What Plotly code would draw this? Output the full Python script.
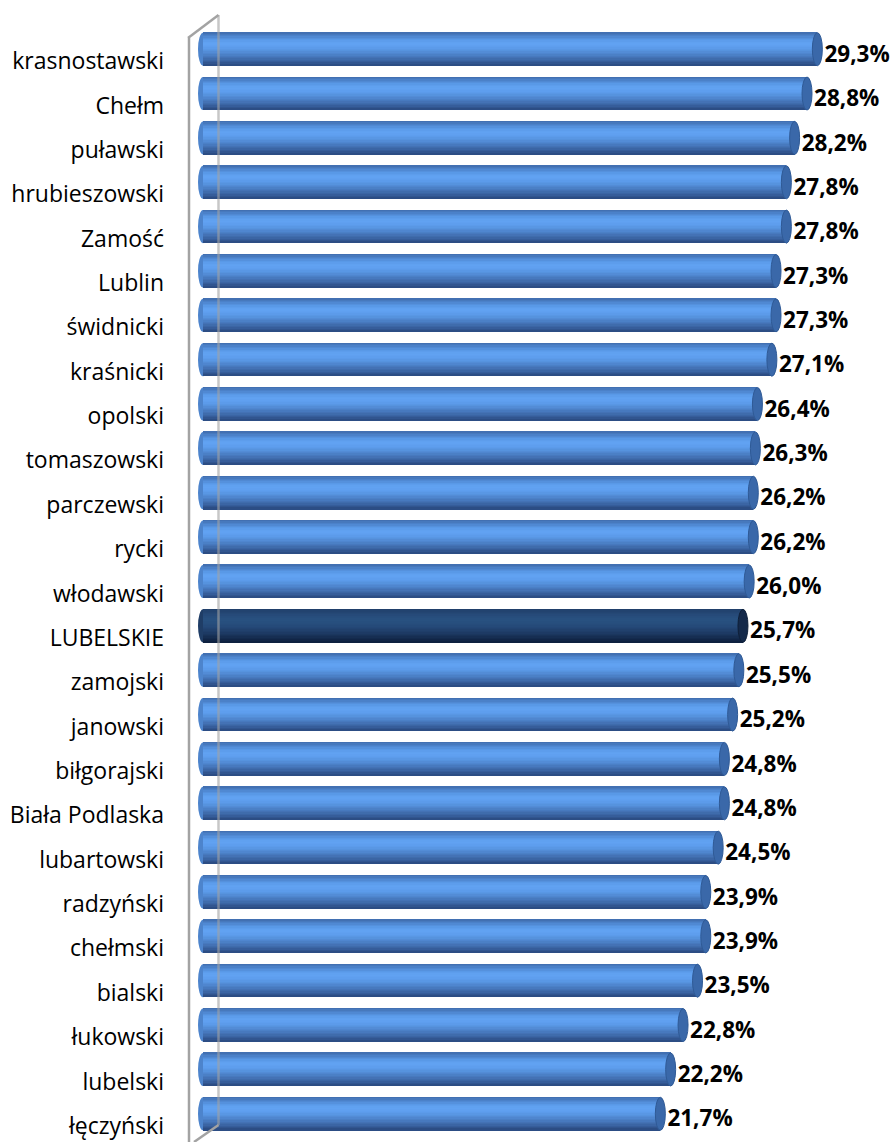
import numpy as np
import plotly.graph_objects as go

# ---- data ----
categories = ["krasnostawski", "Chełm", "puławski", "hrubieszowski", "Zamość", "Lublin",
              "świdnicki", "kraśnicki", "opolski", "tomaszowski", "parczewski", "rycki",
              "włodawski", "LUBELSKIE", "zamojski", "janowski", "biłgorajski",
              "Biała Podlaska", "lubartowski", "radzyński", "chełmski", "bialski",
              "łukowski", "lubelski", "łęczyński"]
values = [29.3, 28.8, 28.2, 27.8, 27.8, 27.3, 27.3, 27.1, 26.4, 26.3, 26.2, 26.2,
          26.0, 25.7, 25.5, 25.2, 24.8, 24.8, 24.5, 23.9, 23.9, 23.5, 22.8, 22.2, 21.7]
highlight = "LUBELSKIE"

# ---- layout geometry ----
W, H = 895, 1142
ML, MR, MT, MB = 198, 0, 27, 6
PX_PER_UNIT = 20.66
XMIN = -0.92
XMAX = XMIN + (W - ML - MR) / PX_PER_UNIT
n = len(categories)
YR = [n - 0.5, -0.5]
slot_px = (H - MT - MB) / n
BAR_H = 0.745            # bar thickness in category units
R = 5.0 / PX_PER_UNIT    # half width of end-cap ellipse

def px_x(px):
    return (px - ML) / (W - ML - MR)

def px_y(py):
    return (H - MB - py) / (H - MT - MB)

def interp(keys, m):
    keys = np.array([[int(c[i:i + 2], 16) for i in (1, 3, 5)] for c in keys], float)
    t = np.linspace(0, 1, m)
    kt = np.linspace(0, 1, len(keys))
    out = []
    for tt in t:
        rgb = [np.interp(tt, kt, keys[:, j]) for j in range(3)]
        out.append("rgb(%d,%d,%d)" % tuple(int(round(v)) for v in rgb))
    return out

blue_keys = ["#4270B2", "#4E86CF", "#5A9AE8", "#62A3F3", "#5E9EEE", "#5794E0",
             "#4E84CC", "#4473B6", "#3962A0", "#2C4D84"]
navy_keys = ["#21406B", "#244774", "#274D7C", "#285180", "#274E7D", "#244877",
             "#20406C", "#1B375F", "#152C4F", "#0E2140"]
NS = 24
blue = interp(blue_keys, NS)
navy = interp(navy_keys, NS)

ypos = list(range(n))
fig = go.Figure()

strip = BAR_H / NS
for k in range(NS):
    cols = [navy[k] if c == highlight else blue[k] for c in categories]
    fig.add_trace(go.Bar(
        orientation="h", y=ypos,
        x=[v - R - (XMIN + R) for v in values],
        base=XMIN + R,
        offset=-BAR_H / 2 + k * strip, width=strip * 1.15,
        marker=dict(color=cols, line=dict(width=0)),
        hoverinfo="skip", showlegend=False))

shapes = []
for i, (c, v) in enumerate(zip(categories, values)):
    hl = c == highlight
    # left rounded end
    shapes.append(dict(type="circle", xref="x", yref="y", layer="below",
                       x0=XMIN, x1=XMIN + 2 * R, y0=i - BAR_H / 2, y1=i + BAR_H / 2,
                       fillcolor="#1F3D66" if hl else "#4D84CC", line=dict(width=0)))
    # right end cap
    shapes.append(dict(type="circle", xref="x", yref="y", layer="above",
                       x0=v - 2 * R, x1=v, y0=i - BAR_H / 2, y1=i + BAR_H / 2,
                       fillcolor="#14294A" if hl else "#3A68A9",
                       line=dict(width=1, color="#0E1F38" if hl else "#2F5A96")))

# 3D wall outline
wall = "#A3A3A3"
for (x0, y0, x1, y1, op) in [(189, 38, 189, 1142, 1.0), (188, 38, 218.5, 15, 1.0),
                             (218.5, 15, 218.5, 1125, 0.6), (218.5, 1125, 194, 1142, 1.0)]:
    shapes.append(dict(type="line", xref="paper", yref="paper", layer="above",
                       x0=px_x(x0), y0=px_y(y0), x1=px_x(x1), y1=px_y(y1),
                       opacity=op, line=dict(color=wall, width=2.5)))

labels = [("%.1f%%" % v).replace(".", ",") for v in values]
fig.add_trace(go.Scatter(
    x=[v + 0.1 for v in values], y=[i + 7.0 / slot_px for i in ypos], mode="text",
    text=labels, textposition="middle right",
    textfont=dict(family="Open Sans", size=22.5, color="#000000", weight="bold"),
    hoverinfo="skip", showlegend=False, cliponaxis=False))

fig.update_layout(
    width=W, height=H, barmode="overlay", bargap=0,
    margin=dict(l=ML, r=MR, t=MT, b=MB),
    paper_bgcolor="white", plot_bgcolor="white",
    shapes=shapes,
    xaxis=dict(range=[XMIN, XMAX], visible=False, showgrid=False, zeroline=False),
    yaxis=dict(range=YR, tickmode="array", tickvals=ypos, ticktext=categories,
               showgrid=False, zeroline=False, showline=False, ticks="",
               ticklabelstandoff=33, ticklabelshift=-12,
               tickfont=dict(family="Open Sans", size=23, color="#000000")),
)

fig.write_html("out.html", config={"displayModeBar": False},
               post_script="document.body.style.margin='0';document.body.style.overflow='hidden';")
